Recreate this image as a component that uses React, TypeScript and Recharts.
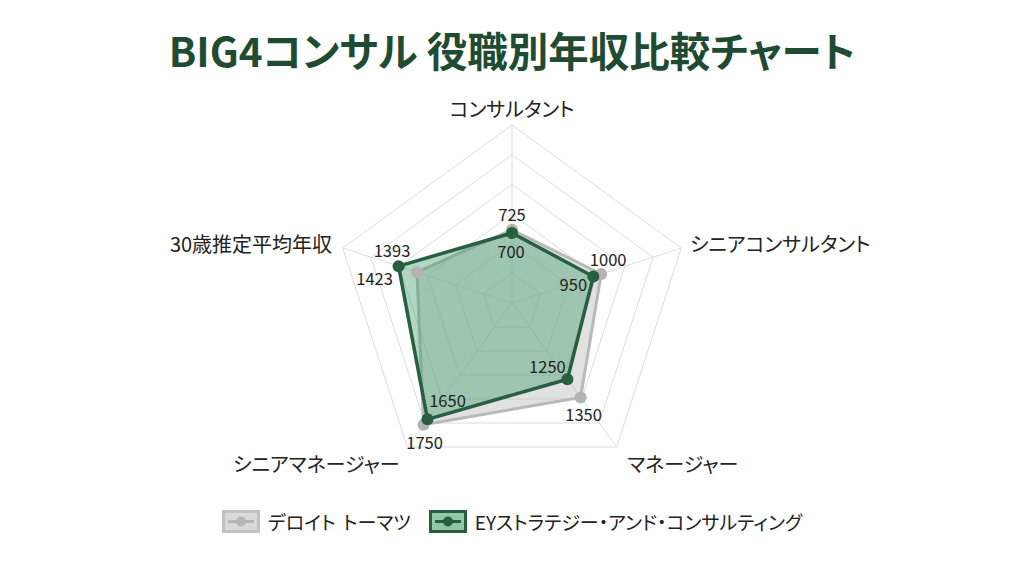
import React from 'react';
import {
  RadarChart,
  Radar,
  PolarGrid,
  PolarAngleAxis,
  PolarRadiusAxis,
  Legend,
  LabelList,
} from 'recharts';

// ---- data ----
const categories = [
  'コンサルタント',
  'シニアコンサルタント',
  'マネージャー',
  'シニアマネージャー',
  '30歳推定平均年収',
];
// radius of each point as drawn (0–1800 scale)
const deloitteValues = [741, 948, 1180, 1521, 1010];
const eyValues = [708, 865, 953, 1454, 1206];
// value labels printed next to the points
const deloitteLabels = ['725', '1000', '1350', '1750', '1393'];
const eyLabels = ['700', '950', '1250', '1650', '1423'];
const radiusTicks = [0, 300, 600, 900, 1200, 1500, 1800];
const seriesNames = ['デロイト トーマツ', 'EYストラテジー・アンド・コンサルティング'];
const title = 'BIG4コンサル 役職別年収比較チャート';

// ---- styles ----
const FONT = '"Noto Sans CJK JP", "Noto Sans", sans-serif';
const GREEN_DARK = '#275f40';
const GREEN_FILL = '#3a9a66';
const GREY_LINE = '#b9b9b9';
const GREY_FILL = '#bdbdbd';
const TITLE_COLOR = '#1e4b32';

const deloitteLabelOffsets = [[0, -16], [7, -15], [3, 17], [1, 17], [-25, -22]];
const eyLabelOffsets = [[-1, 18], [-20, 7], [-20, -13], [20, -19], [-24, 12]];
const angleTickOffsets = [[0, -9], [1, -2.5], [6, 10], [-3, 10], [-3, -2.5]];

const data = categories.map((c, i) => ({
  subject: c,
  deloitte: deloitteValues[i],
  ey: eyValues[i],
  deloitteLabel: deloitteLabels[i],
  eyLabel: eyLabels[i],
}));

const makeLabel = (offsets: number[][]) => (props: any) => {
  const { x, y, value, index } = props;
  const [dx, dy] = offsets[index] || [0, 0];
  return (
    <text
      x={x + dx}
      y={y + dy}
      textAnchor="middle"
      dominantBaseline="central"
      fill="#222"
      fontSize={16.5}
      fontFamily={FONT}
    >
      {value}
    </text>
  );
};

const AngleTick = (props: any) => {
  const { x, y, payload, textAnchor, index } = props;
  const [dx, dy] = angleTickOffsets[index] || [0, 0];
  return (
    <text
      x={x + dx}
      y={y + dy}
      textAnchor={textAnchor}
      dominantBaseline="central"
      fill="#222"
      fontSize={20}
      fontFamily={FONT}
      style={{ fontFeatureSettings: '"palt"' }}
    >
      {payload.value}
    </text>
  );
};

const LegendIcon = ({ fill, border, line }: { fill: string; border: string; line: string }) => (
  <svg width={38} height={23} style={{ display: 'block' }}>
    <rect x={1.5} y={1.5} width={35} height={20} fill={fill} stroke={border} strokeWidth={3} />
    <line x1={6} y1={11.5} x2={32} y2={11.5} stroke={line} strokeWidth={3} />
    <circle cx={19} cy={11.5} r={5} fill={line} />
  </svg>
);

const legendStyles = [
  { fill: '#dadada', border: '#c2c2c2', line: '#b5b5b5' },
  { fill: '#93c7a6', border: GREEN_DARK, line: GREEN_DARK },
];

const renderLegend = () => (
  <div
    style={{
      display: 'flex',
      justifyContent: 'center',
      alignItems: 'center',
      fontFamily: FONT,
      fontSize: 19,
      color: '#222',
      fontFeatureSettings: '"palt"',
    }}
  >
    {seriesNames.map((name, i) => (
      <div key={name} style={{ display: 'flex', alignItems: 'center', marginRight: i === 0 ? 18 : 0 }}>
        <LegendIcon {...legendStyles[i]} />
        <span style={{ marginLeft: 8, lineHeight: '23px', whiteSpace: 'pre', wordSpacing: 3 }}>{name}</span>
      </div>
    ))}
  </div>
);

export default function App() {
  return (
    <div
      style={{
        position: 'fixed',
        left: 0,
        top: 0,
        width: 1024,
        height: 572,
        background: '#ffffff',
        overflow: 'hidden',
      }}
    >
      <div
        style={{
          position: 'absolute',
          left: 0,
          top: 22,
          width: 1024,
          textAlign: 'center',
          fontFamily: FONT,
          fontWeight: 700,
          fontSize: 40.5,
          lineHeight: '56px',
          color: TITLE_COLOR,
          fontFeatureSettings: '"palt"',
        }}
      >
        {title}
      </div>
      <div style={{ position: 'absolute', left: 0, top: 0 }}>
        <RadarChart
          width={1024}
          height={572}
          data={data}
          cx={512}
          cy={303}
          outerRadius={178}
          margin={{ top: 0, right: 0, bottom: 0, left: 0 }}
        >
          <PolarGrid stroke="#dcdcdc" strokeWidth={1} />
          <PolarAngleAxis dataKey="subject" tick={<AngleTick />} tickLine={false} />
          <PolarRadiusAxis
            domain={[0, 1800]}
            ticks={radiusTicks}
            tick={false}
            axisLine={false}
          />
          <Radar
            name={seriesNames[0]}
            dataKey="deloitte"
            stroke={GREY_LINE}
            strokeWidth={3}
            fill={GREY_FILL}
            fillOpacity={0.45}
            dot={{ r: 6, fill: '#b3b3b3', stroke: '#b3b3b3', strokeWidth: 0, fillOpacity: 1 }}
            isAnimationActive={false}
          >
            <LabelList dataKey="deloitteLabel" content={makeLabel(deloitteLabelOffsets)} />
          </Radar>
          <Radar
            name={seriesNames[1]}
            dataKey="ey"
            stroke={GREEN_DARK}
            strokeWidth={3.5}
            fill={GREEN_FILL}
            fillOpacity={0.4}
            dot={{ r: 6, fill: GREEN_DARK, stroke: GREEN_DARK, strokeWidth: 0, fillOpacity: 1 }}
            isAnimationActive={false}
          >
            <LabelList dataKey="eyLabel" content={makeLabel(eyLabelOffsets)} />
          </Radar>
          <Legend
            content={renderLegend}
            verticalAlign="top"
            wrapperStyle={{ position: 'absolute', top: 510, left: 0, width: 1024 }}
          />
        </RadarChart>
      </div>
    </div>
  );
}
